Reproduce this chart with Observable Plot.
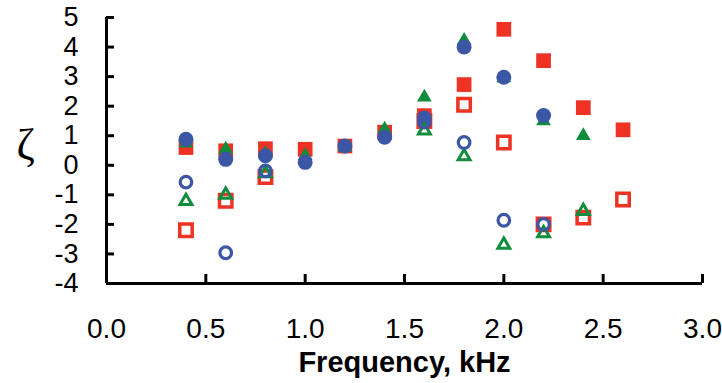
<!DOCTYPE html>
<html><head><meta charset="utf-8">
<script src="https://cdn.jsdelivr.net/npm/d3@7"></script>
<script src="https://cdn.jsdelivr.net/npm/@observablehq/plot@0.6"></script>
<style>body{margin:0;background:#fff;} svg{font-family:"Liberation Sans",Arial,sans-serif;}</style>
</head><body><div id="chart"></div>
<script>
const freq = [0.4,0.6,0.8,1.0,1.2,1.4,1.6,1.8,2.0,2.2,2.4,2.6];
const redFilled   = [0.6,0.49,0.56,0.54,0.65,1.12,1.68,2.73,4.6,3.54,1.95,1.2];
const redOpen     = [-2.2,-1.2,-0.4,null,null,null,1.5,2.05,0.77,-2.0,-1.77,-1.16];
const greenFilled = [0.75,0.54,0.4,0.32,0.6,1.22,2.3,4.22,2.95,1.5,1.0,null];
const greenOpen   = [-1.21,-1.0,-0.27,null,null,null,1.17,0.3,-2.69,-2.3,-1.55,null];
const blueFilled  = [0.88,0.2,0.32,0.1,0.65,0.95,1.6,4.0,2.98,1.68,null,null];
const blueOpen    = [-0.57,-2.96,-0.19,null,null,null,1.46,0.77,-1.86,-2.0,null,null];
const xTicks = [0,0.5,1,1.5,2,2.5,3];
const yTicks = [-4,-3,-2,-1,0,1,2,3,4,5];

const RED="#ee3224", GREEN="#0f8d3c", BLUE="#3c56a6";
const pts = arr => freq.map((f,i)=>({f, v:arr[i]})).filter(d=>d.v!=null);

const plot = Plot.plot({
  width:722, height:383,
  marginLeft:106, marginRight:20, marginTop:17, marginBottom:100,
  x:{domain:[0,3]}, y:{domain:[-4,5]},
  marks:[
    Plot.ruleX([0],{y1:-4,y2:5,stroke:"#000",strokeWidth:3}),
    Plot.ruleY([-4],{x1:0,x2:3,stroke:"#000",strokeWidth:3}),
    Plot.axisY({ticks:yTicks, tickSize:-8, tickPadding:36, strokeWidth:3, fontSize:27, tickFormat:d=>d<0?"-"+Math.abs(d):String(d), label:null}),
    Plot.axisX({ticks:xTicks, tickSize:-9, tickPadding:44, strokeWidth:3, fontSize:28, tickFormat:d3.format(".1f"), label:null}),
    Plot.text(["Frequency, kHz"],{frameAnchor:"bottom", lineAnchor:"middle", dy:79, fontSize:29, fontWeight:"bold", fill:"#000"}),
    Plot.text(["ζ"],{frameAnchor:"left", lineAnchor:"middle", dx:-90, dy:-6, fontSize:44, fontFamily:"Liberation Serif", fill:"#000"}),
    Plot.dot(pts(redOpen),{x:"f",y:"v",symbol:"square",r:7,fill:"none",stroke:RED,strokeWidth:3.5}),
    Plot.dot(pts(redFilled),{x:"f",y:"v",symbol:"square",r:8.3,fill:RED,stroke:"none"}),
    Plot.dot(pts(greenFilled),{x:"f",y:"v",symbol:"triangle",r:5.5,fill:GREEN,stroke:"none"}),
    Plot.dot(pts(blueFilled),{x:"f",y:"v",symbol:"circle",r:7.5,fill:BLUE,stroke:"none"}),
    Plot.dot(pts(greenOpen),{x:"f",y:"v",symbol:"triangle",r:4.4,fill:"none",stroke:GREEN,strokeWidth:3}),
    Plot.dot(pts(blueOpen),{x:"f",y:"v",symbol:"circle",r:5.8,fill:"none",stroke:BLUE,strokeWidth:3.2})
  ]
});
document.getElementById("chart").append(plot);
</script></body></html>
